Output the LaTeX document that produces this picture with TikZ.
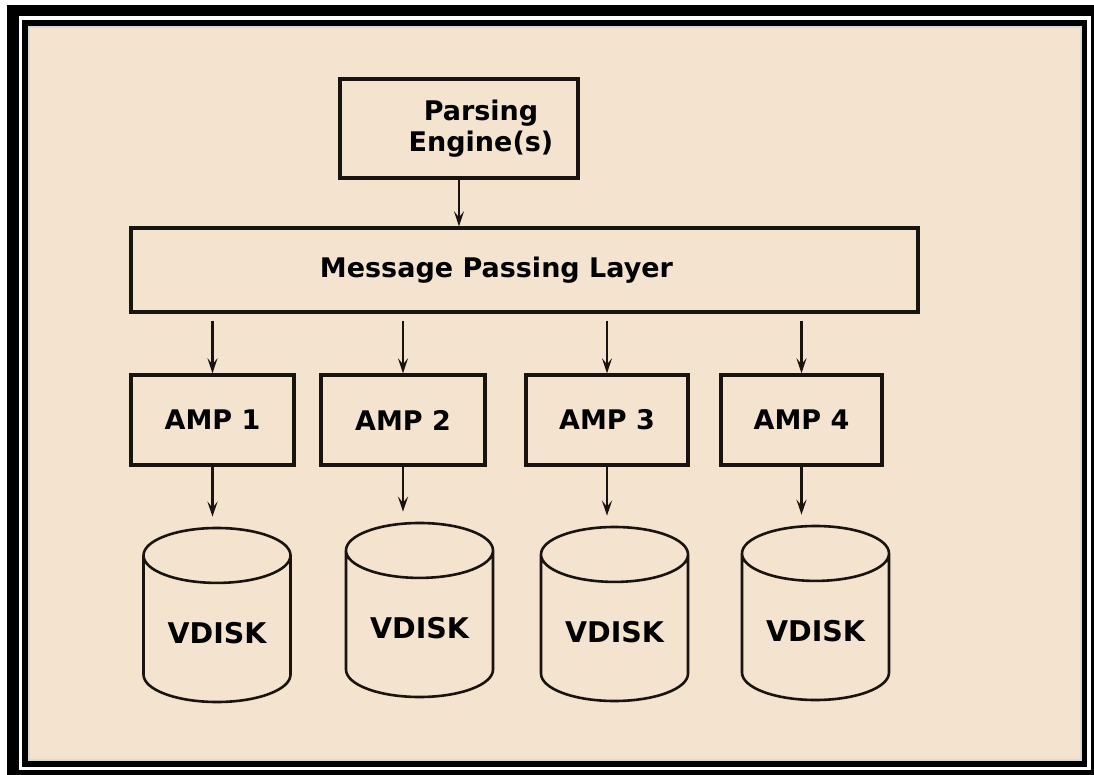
\documentclass[tikz,border=0pt]{standalone}
\usepackage{fontspec}
\setmainfont{DejaVu Sans}
\usetikzlibrary{arrows.meta,shapes.geometric}

\definecolor{paper}{RGB}{243,227,207}
\definecolor{ink}{RGB}{26,20,16}

\tikzset{
  box/.style={draw=ink, line width=3.4pt, rectangle, align=center,
    font=\bfseries\fontsize{27}{31}\selectfont},
  disk/.style={draw=ink, line width=2.6pt, cylinder, shape border rotate=90,
    aspect=0.52, minimum width=147pt, minimum height=174pt, anchor=shape center,
    font=\bfseries\fontsize{28.5}{32}\selectfont},
  arr/.style={draw=ink, line width=2.4pt,
    -{Stealth[length=15pt,width=10pt,inset=6pt]}}
}

\begin{document}
\begin{tikzpicture}[x=1pt, y=-1pt]
\useasboundingbox (0,0) rectangle (1094,775);
% frame
\fill[white] (0,0) rectangle (1094,775);
\fill[black] (7,5) rectangle (1094,775);
\fill[white] (19,16) rectangle (1091,770);
\fill[black] (22,20) rectangle (1087,767);
\fill[paper] (28,26) rectangle (1082,761);
\draw[black!15, line width=2pt] (29,27) rectangle (1081,760);

% boxes
\node[box, minimum width=238pt, minimum height=99pt,
  label={[font=\bfseries\fontsize{27}{31}\selectfont, align=center, xshift=22pt]center:Parsing\\Engine(s)}]
  (pe) at (459,128.5) {};
\node[box, minimum width=787pt, minimum height=84pt,
  label={[font=\bfseries\fontsize{27}{31}\selectfont, xshift=-28pt]center:Message Passing Layer}]
  (mpl) at (524.5,270) {};

\node[box, minimum width=163pt, minimum height=90pt] (amp1) at (212.5,420) {AMP 1};
\node[box, minimum width=164pt, minimum height=90pt] (amp2) at (403,420) {AMP 2};
\node[box, minimum width=162pt, minimum height=90pt] (amp3) at (607,420) {AMP 3};
\node[box, minimum width=161pt, minimum height=90pt] (amp4) at (801.5,420) {AMP 4};

% disks
\node[disk] (vd1) at (217,615) {VDISK};
\node[disk] (vd2) at (419.5,610) {VDISK};
\node[disk] (vd3) at (614.5,614) {VDISK};
\node[disk] (vd4) at (815.5,613) {VDISK};

% arrows
\draw[arr] (pe.south) -- (pe.south |- mpl.north);
\foreach \i in {1,...,4} {
  \draw[arr, shorten <=7pt] (amp\i.north |- mpl.south) -- (amp\i.north);
  \draw[arr, shorten >=10pt] (amp\i.south) -- (amp\i.south |- vd\i.north);
}
\end{tikzpicture}
\end{document}
